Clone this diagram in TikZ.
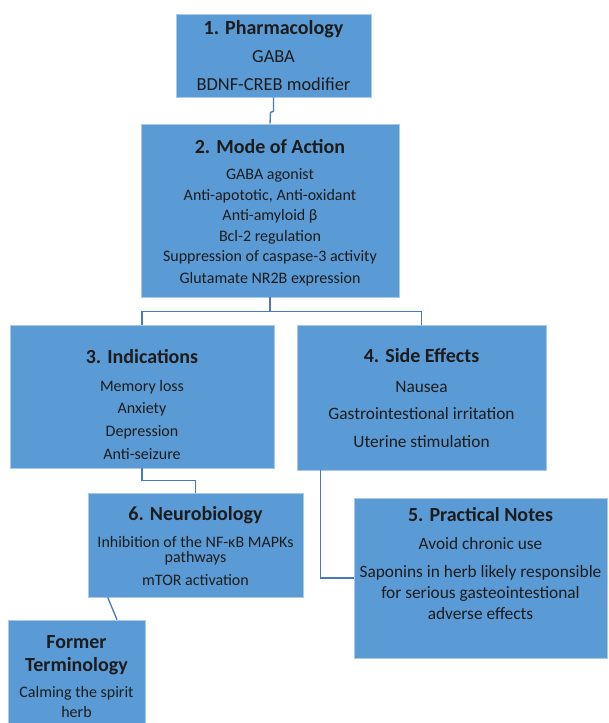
\documentclass[tikz,border=0pt]{standalone}
\usepackage{fontspec}
\setmainfont{Carlito}
\usetikzlibrary{fit}
\definecolor{boxfill}{RGB}{91,155,213}
\definecolor{boxedge}{RGB}{170,200,232}
\definecolor{linec}{RGB}{72,120,190}
\definecolor{txt}{RGB}{28,28,28}
\begin{document}
\begin{tikzpicture}[x=0.75pt,y=-0.75pt,
  box/.style={fill=boxfill, draw=boxedge, line width=0.5pt, inner sep=0pt},
  ttl/.style={anchor=base, text=txt, inner sep=0pt, font=\fontsize{15}{18}\selectfont\bfseries},
  bd/.style={anchor=base, text=txt, inner sep=0pt, font=\fontsize{12}{14}\selectfont},
  bdm/.style={anchor=base, text=txt, inner sep=0pt, font=\fontsize{13}{15}\selectfont},
  bdl/.style={anchor=base, text=txt, inner sep=0pt, font=\fontsize{13.8}{16}\selectfont},
  conn/.style={draw=linec, line width=1pt}]
\useasboundingbox (0,0) rectangle (608,723);
% boxes
\node[box, fit={(176,14) (371,97)}] (b1) {};
\node[box, fit={(141,124) (399,297)}] (b2) {};
\node[box, fit={(10,325) (274,468)}] (b3) {};
\node[box, fit={(297,325) (546,470)}] (b4) {};
\node[box, fit={(354,498) (607,658)}] (b5) {};
\node[box, fit={(88,493) (303,597)}] (b6) {};
\node[box, fit={(8,620) (145,723)}] (b7) {};
% connectors
\draw[conn] (b1.south) -- ++(0,14) -- ++(-3,1) -- (b2.north);
\draw[conn] (b2.south) -- ++(0,14) coordinate (j1);
\draw[conn] (b3.north) |- (j1) -| (b4.north);
\draw[conn] (b3.south) -- ++(0,12) -| (b6.north);
\draw[conn] ([xshift=18pt]b4.south west) |- (b5.west);
\draw[conn] ([xshift=15pt]b6.south west) -- ([xshift=82pt]b7.north west);
% box 1
\node[ttl] (t1) at (273.5,35) {1. Pharmacology};
\node[bdl] (t1a) at (273.5,63) {GABA};
\node[bdl] (t1b) at (273.5,91) {BDNF-CREB modifier};
% box 2
\node[ttl] (t2) at (270,154) {2. Mode of Action};
\node[bd] (t2a) at (270,180) {GABA agonist};
\node[bd] (t2b) at (270,201) {Anti-apototic, Anti-oxidant};
\node[bd] (t2c) at (270,221) {Anti-amyloid β};
\node[bd] (t2d) at (270,242) {Bcl-2 regulation};
\node[bd] (t2e) at (270,262) {Suppression of caspase-3 activity};
\node[bd] (t2f) at (270,283) {Glutamate NR2B expression};
% box 3
\node[ttl] (t3) at (142,363) {3. Indications};
\node[bd] (t3a) at (142,391) {Memory loss};
\node[bd] (t3b) at (142,413) {Anxiety};
\node[bd] (t3c) at (142,436) {Depression};
\node[bd] (t3d) at (142,459) {Anti-seizure};
% box 4
\node[ttl] (t4) at (421.5,362) {4. Side Effects};
\node[bdm] (t4a) at (421.5,392) {Nausea};
\node[bdm] (t4b) at (421.5,419) {Gastrointestional irritation};
\node[bdm] (t4c) at (421.5,447) {Uterine stimulation};
% box 5
\node[ttl] (t5) at (480.5,521) {5. Practical Notes};
\node[bdm] (t5a) at (480.5,549) {Avoid chronic use};
\node[bdm] (t5b) at (480.5,577) {Saponins in herb likely responsible};
\node[bdm] (t5c) at (480.5,598) {for serious gasteointestional};
\node[bdm] (t5d) at (480.5,619) {adverse effects};
% box 6
\node[ttl] (t6) at (195.5,520) {6. Neurobiology};
\node[bd] (t6a) at (195.5,547) {Inhibition of the NF-κB MAPKs};
\node[bd] (t6b) at (195.5,562) {pathways};
\node[bd] (t6c) at (195.5,585) {mTOR activation};
% former
\node[ttl] (t7) at (76.5,648) {Former};
\node[ttl] (t7b) at (76.5,671) {Terminology};
\node[bd] (t7c) at (76.5,697) {Calming the spirit};
\node[bd] (t7d) at (76.5,717) {herb};
\end{tikzpicture}
\end{document}
